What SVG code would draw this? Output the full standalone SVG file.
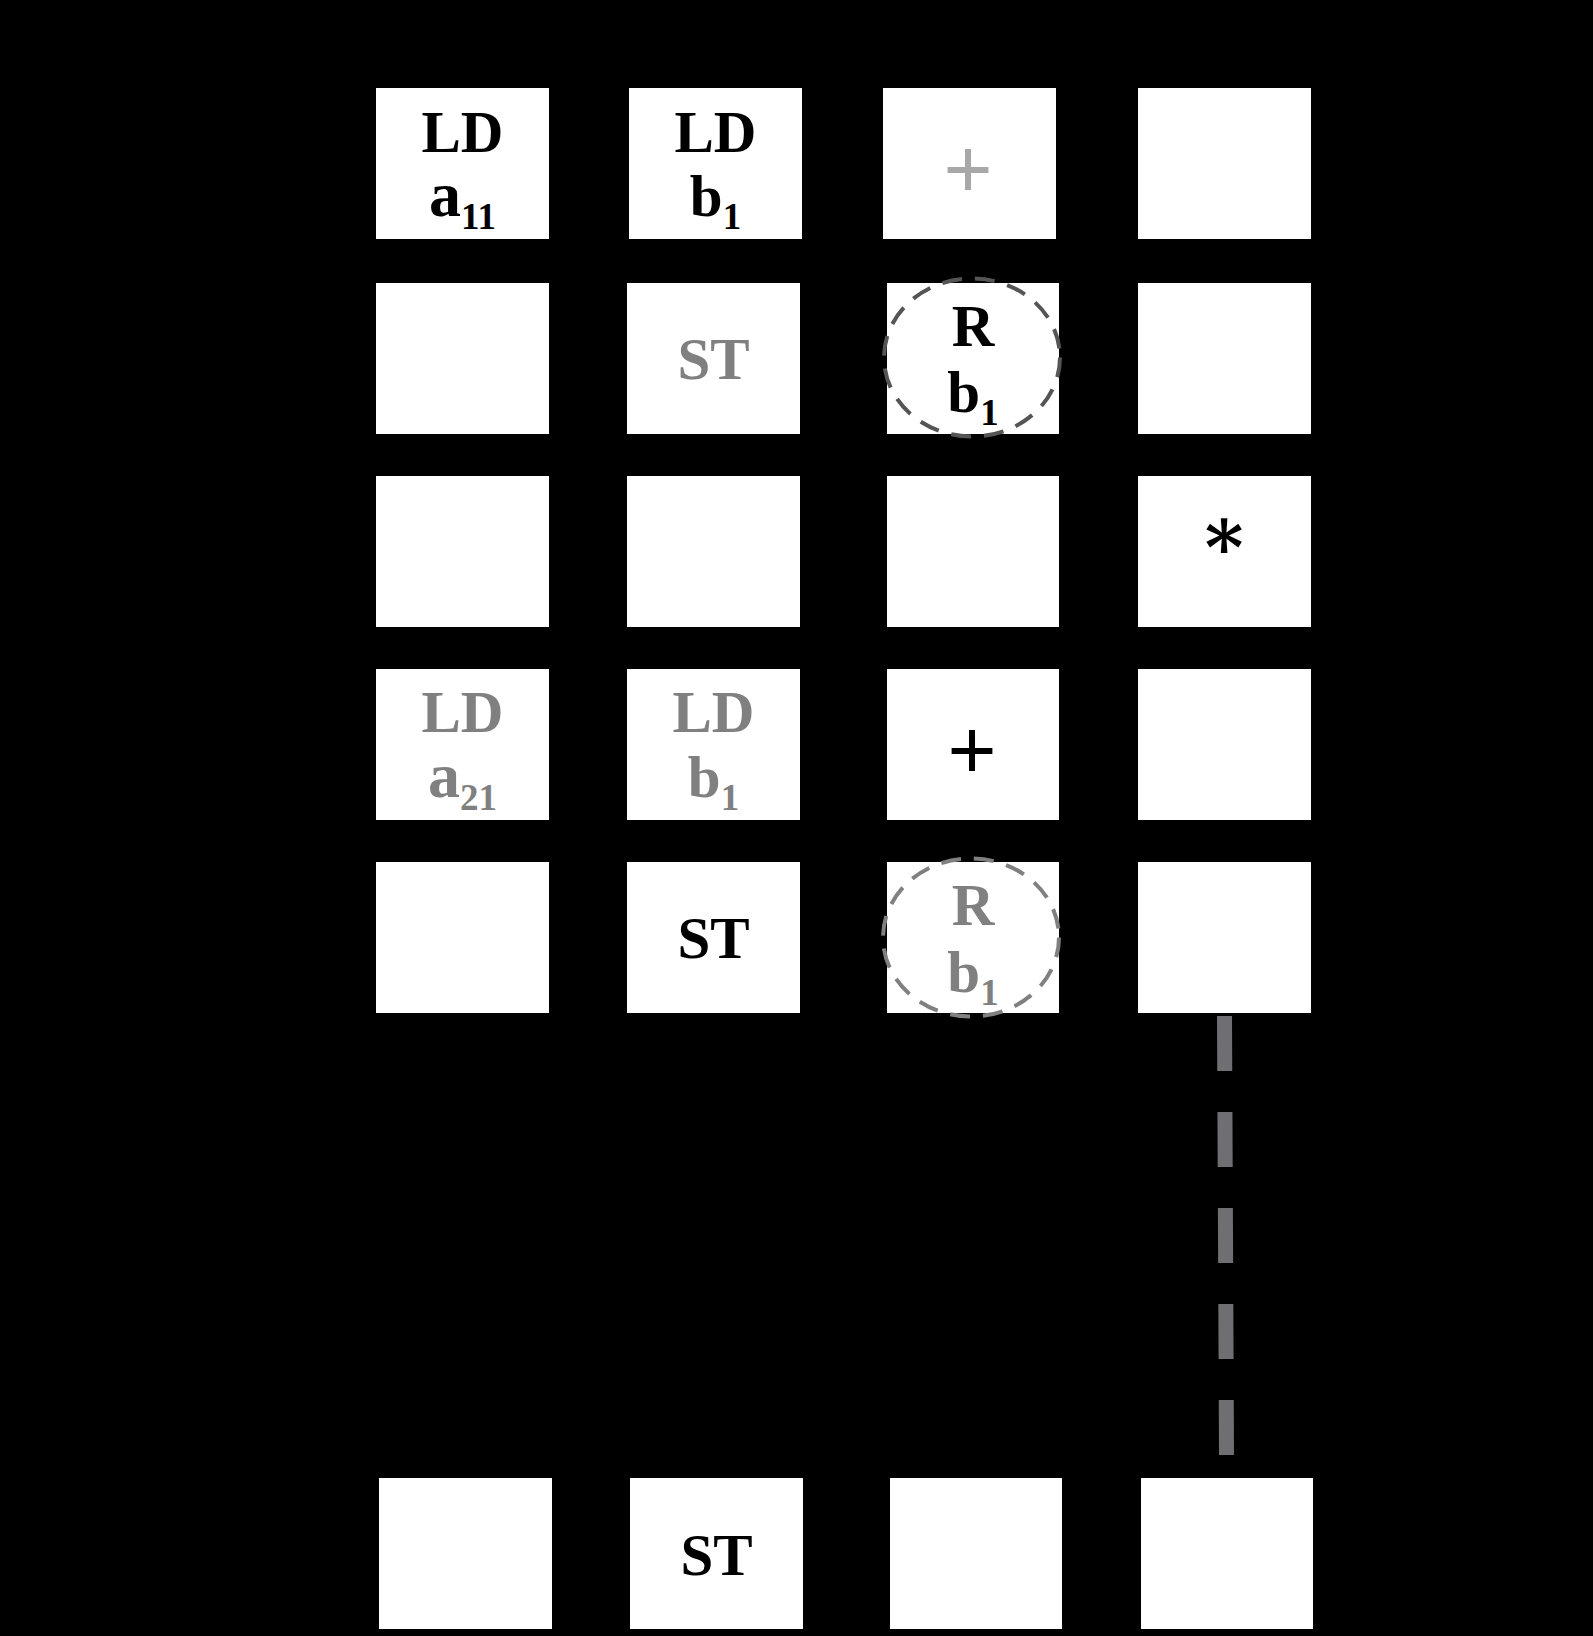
<svg xmlns="http://www.w3.org/2000/svg" width="1593" height="1636" viewBox="0 0 1593 1636">
<style>
.box{fill:#fff}
.t{font-family:"Liberation Serif","Times New Roman",serif;font-weight:bold;font-size:59px;text-anchor:middle;fill:#000}
.g{fill:#808080}
.big{font-size:64px}
.sub{font-size:37px}
.plus{font-family:"Liberation Sans",Arial,sans-serif;font-weight:normal;font-size:84px;text-anchor:middle}
.ast{font-family:"DejaVu Serif",serif;font-weight:bold;font-size:74px;text-anchor:middle}
.circ{fill:none;stroke-width:4;stroke-dasharray:20 13}
</style>
<rect width="1593" height="1636" fill="#000"/>
<g id="r1c1"><rect class="box" x="376" y="88" width="173" height="151"/><text class="t" x="462.5" y="152">LD</text><text class="t" x="462.5" y="216"><tspan class="big">a</tspan><tspan class="sub" dy="13">11</tspan></text></g>
<g id="r1c2"><rect class="box" x="629" y="88" width="173" height="151"/><text class="t" x="715.5" y="152">LD</text><text class="t" x="715.5" y="216">b<tspan class="sub" dy="13">1</tspan></text></g>
<g id="r1c3"><rect class="box" x="883" y="88" width="173" height="151"/><text class="plus" x="968" y="197" fill="#a8a8a8">+</text></g>
<g id="r1c4"><rect class="box" x="1138" y="88" width="173" height="151"/></g>
<g id="r2c1"><rect class="box" x="376" y="283" width="173" height="151"/></g>
<g id="r2c2"><rect class="box" x="627" y="283" width="173" height="151"/><text class="t g" x="713.5" y="379">ST</text></g>
<g id="r2c3"><rect class="box" x="887" y="283" width="172" height="151"/><ellipse class="circ" cx="972" cy="357.5" rx="88" ry="79" stroke="#555"/><text class="t" x="973" y="346">R</text><text class="t" x="973" y="412">b<tspan class="sub" dy="13">1</tspan></text></g>
<g id="r2c4"><rect class="box" x="1138" y="283" width="173" height="151"/></g>
<g id="r3c1"><rect class="box" x="376" y="476" width="173" height="151"/></g>
<g id="r3c2"><rect class="box" x="627" y="476" width="173" height="151"/></g>
<g id="r3c3"><rect class="box" x="887" y="476" width="172" height="151"/></g>
<g id="r3c4"><rect class="box" x="1138" y="476" width="173" height="151"/><text class="ast" x="1224" y="574">*</text></g>
<g id="r4c1"><rect class="box" x="376" y="669" width="173" height="151"/><text class="t g" x="462.5" y="732">LD</text><text class="t g" x="462.5" y="797"><tspan class="big">a</tspan><tspan class="sub" dy="13">21</tspan></text></g>
<g id="r4c2"><rect class="box" x="627" y="669" width="173" height="151"/><text class="t g" x="713.5" y="732">LD</text><text class="t g" x="713.5" y="797">b<tspan class="sub" dy="13">1</tspan></text></g>
<g id="r4c3"><rect class="box" x="887" y="669" width="172" height="151"/><text class="plus" x="972" y="778" fill="#000">+</text></g>
<g id="r4c4"><rect class="box" x="1138" y="669" width="173" height="151"/></g>
<g id="r5c1"><rect class="box" x="376" y="862" width="173" height="151"/></g>
<g id="r5c2"><rect class="box" x="627" y="862" width="173" height="151"/><text class="t" x="713.5" y="958">ST</text></g>
<g id="r5c3"><rect class="box" x="887" y="862" width="172" height="151"/><ellipse class="circ" cx="971" cy="937.5" rx="88" ry="79" stroke="#808080"/><text class="t g" x="973" y="925">R</text><text class="t g" x="973" y="992">b<tspan class="sub" dy="13">1</tspan></text></g>
<g id="r5c4"><rect class="box" x="1138" y="862" width="173" height="151"/></g>
<g id="r7c1"><rect class="box" x="379" y="1478" width="173" height="151"/></g>
<g id="r7c2"><rect class="box" x="630" y="1478" width="173" height="151"/><text class="t" x="716.5" y="1575">ST</text></g>
<g id="r7c3"><rect class="box" x="890" y="1478" width="172" height="151"/></g>
<g id="r7c4"><rect class="box" x="1141" y="1478" width="172" height="151"/></g>
<g id="connectors"><line x1="1224.5" y1="1016" x2="1226.5" y2="1456" stroke="#6f6f73" stroke-width="15" stroke-dasharray="55 41"/></g>
</svg>
